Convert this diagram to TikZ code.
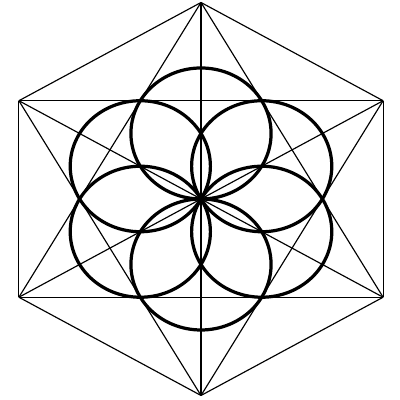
\documentclass[tikz,border=0pt]{standalone}

\begin{document}
\begin{tikzpicture}[xscale=1.07,
    thinline/.style={line width=0.5pt},
    petal/.style={line width=1.4pt}]
    \useasboundingbox (-2.868,-3.069) rectangle (2.839,3.038);

    % --- 1. 바깥 육각형 꼭짓점 ---
    \def\hexR{3}
    \foreach \i/\a in {1/90, 2/150, 3/210, 4/270, 5/330, 6/30} {
        \coordinate (v\i) at (\a:\hexR);
    }
    \coordinate (O) at (0,0);

    % 모든 꼭짓점 쌍을 잇는 선 (육각형, 삼각형, 대각선)
    \foreach \i in {1,...,6} {
        \foreach \j in {\i,...,6} {
            \ifnum\i<\j
                \draw[thinline] (v\i) -- (v\j);
            \fi
        }
    }

    % --- 2. 생명의 씨앗 (원 여섯 개) ---
    \foreach \a in {90, 150, 210, 270, 330, 30} {
        \draw[petal] (\a:1) circle (1);
    }

\end{tikzpicture}
\end{document}
